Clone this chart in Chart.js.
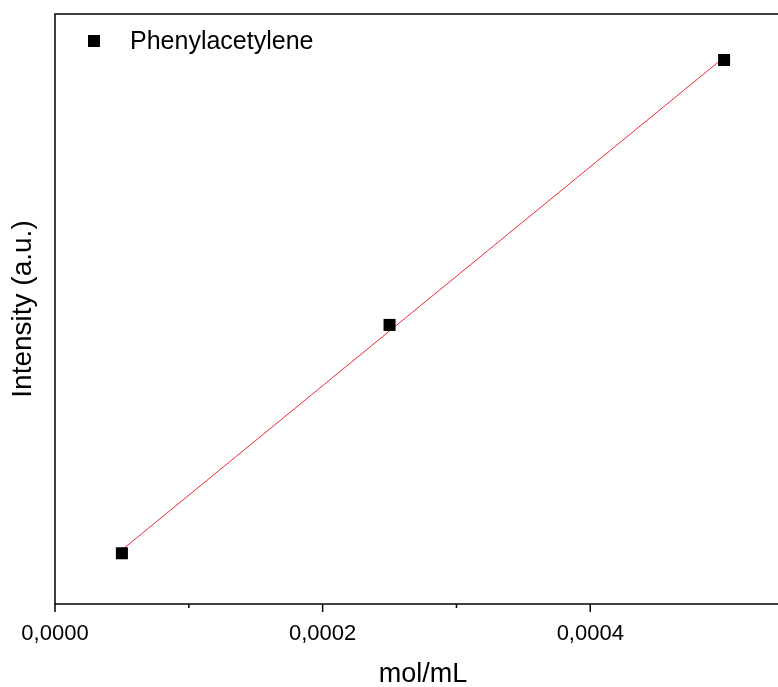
<!DOCTYPE html>
<html>
<head>
<meta charset="utf-8">
<script src="https://cdn.jsdelivr.net/npm/chart.js@4"></script>
<style>
    html, body { margin: 0; padding: 0; background: #fff; overflow: hidden; }
    #wrap { width: 800px; height: 687px; }
</style>
</head>
<body>
<div id="wrap"><canvas id="calChart" width="800" height="687"></canvas></div>
<script>
// concentration (mol/mL) and measured intensity (a.u.)
const concentration = [0.00005, 0.00025, 0.0005];
const intensity = [8.6, 47.3, 92.2];
const seriesName = 'Phenylacetylene';
const majorTicks = [0, 0.0002, 0.0004];

// least squares fit through the measured points
function linearFit(xs, ys) {
    let n = xs.length;
    let mx = xs.reduce((a, b) => a + b, 0) / n;
    let my = ys.reduce((a, b) => a + b, 0) / n;
    let sxy = 0, sxx = 0;
    for (let i = 0; i < n; i++) {
        sxy += (xs[i] - mx) * (ys[i] - my);
        sxx += (xs[i] - mx) * (xs[i] - mx);
    }
    let slope = sxy / sxx;
    return x => my + slope * (x - mx);
}

let fit = linearFit(concentration, intensity);
let xFirst = concentration[0], xLast = concentration[concentration.length - 1];
let fitLine = [{x: xFirst, y: fit(xFirst)}, {x: xLast, y: fit(xLast)}];

function isMajor(v) {
    return majorTicks.some(t => Math.abs(t - v) < 1e-9);
}

// frame, ticks and the in-plot legend
const framePlugin = {
    id: 'frame',
    afterDatasetsDraw(chart) {
        let ctx = chart.ctx, a = chart.chartArea, xs = chart.scales.x;
        ctx.save();
        ctx.strokeStyle = '#000';
        ctx.lineWidth = 1.5;
        ctx.strokeRect(a.left, a.top, a.right - a.left, a.bottom - a.top);
        xs.ticks.forEach(t => {
            let px = xs.getPixelForValue(t.value);
            let len = isMajor(t.value) ? 8 : 4;
            ctx.beginPath();
            ctx.moveTo(px, a.bottom);
            ctx.lineTo(px, a.bottom + len);
            ctx.stroke();
        });
        // legend
        ctx.fillStyle = '#000';
        ctx.fillRect(88, 35, 12, 12);
        ctx.font = '25px "Liberation Sans", Arial, sans-serif';
        ctx.textBaseline = 'middle';
        ctx.fillText(seriesName, 130, 42);
        ctx.restore();
    }
};

let ctxCal = document.getElementById('calChart').getContext('2d');
let calChart = new Chart(ctxCal, {
    data: {
        datasets: [{
            type: 'scatter',
            label: seriesName,
            data: concentration.map((x, i) => ({x: x, y: intensity[i]})),
            pointStyle: 'rect',
            pointRadius: 8.5,
            pointHoverRadius: 8.5,
            backgroundColor: '#000',
            borderColor: '#000',
            borderWidth: 0,
            order: 0
        }, {
            type: 'line',
            label: 'fit',
            data: fitLine,
            borderColor: 'rgb(235, 40, 50)',
            borderWidth: 1,
            pointRadius: 0,
            fill: false,
            order: 1
        }]
    },
    options: {
        responsive: false,
        animation: false,
        layout: {padding: {top: 14, right: 3, left: 0, bottom: 0}},
        plugins: {legend: {display: false}, tooltip: {enabled: false}},
        scales: {
            x: {
                type: 'linear',
                min: 0,
                max: 0.00055,
                afterFit: s => { s.height = 83; },
                grid: {display: false},
                border: {display: false},
                ticks: {
                    stepSize: 0.0001,
                    autoSkip: false,
                    maxRotation: 0,
                    padding: 9,
                    color: '#000',
                    font: {family: '"Liberation Sans", Arial, sans-serif', size: 22},
                    callback: v => isMajor(v) ? v.toFixed(4).replace('.', ',') : ''
                },
                title: {
                    display: true,
                    text: 'mol/mL',
                    color: '#000',
                    font: {family: '"Liberation Sans", Arial, sans-serif', size: 27},
                    padding: {top: 0, bottom: -4}
                }
            },
            y: {
                type: 'linear',
                min: 0,
                max: 100,
                afterFit: s => { s.width = 55; },
                grid: {display: false},
                border: {display: false},
                ticks: {display: false},
                title: {
                    display: true,
                    text: 'Intensity (a.u.)',
                    color: '#000',
                    font: {family: '"Liberation Sans", Arial, sans-serif', size: 28},
                    padding: {top: 6, bottom: 0}
                }
            }
        }
    },
    plugins: [framePlugin]
});
</script>
</body>
</html>
